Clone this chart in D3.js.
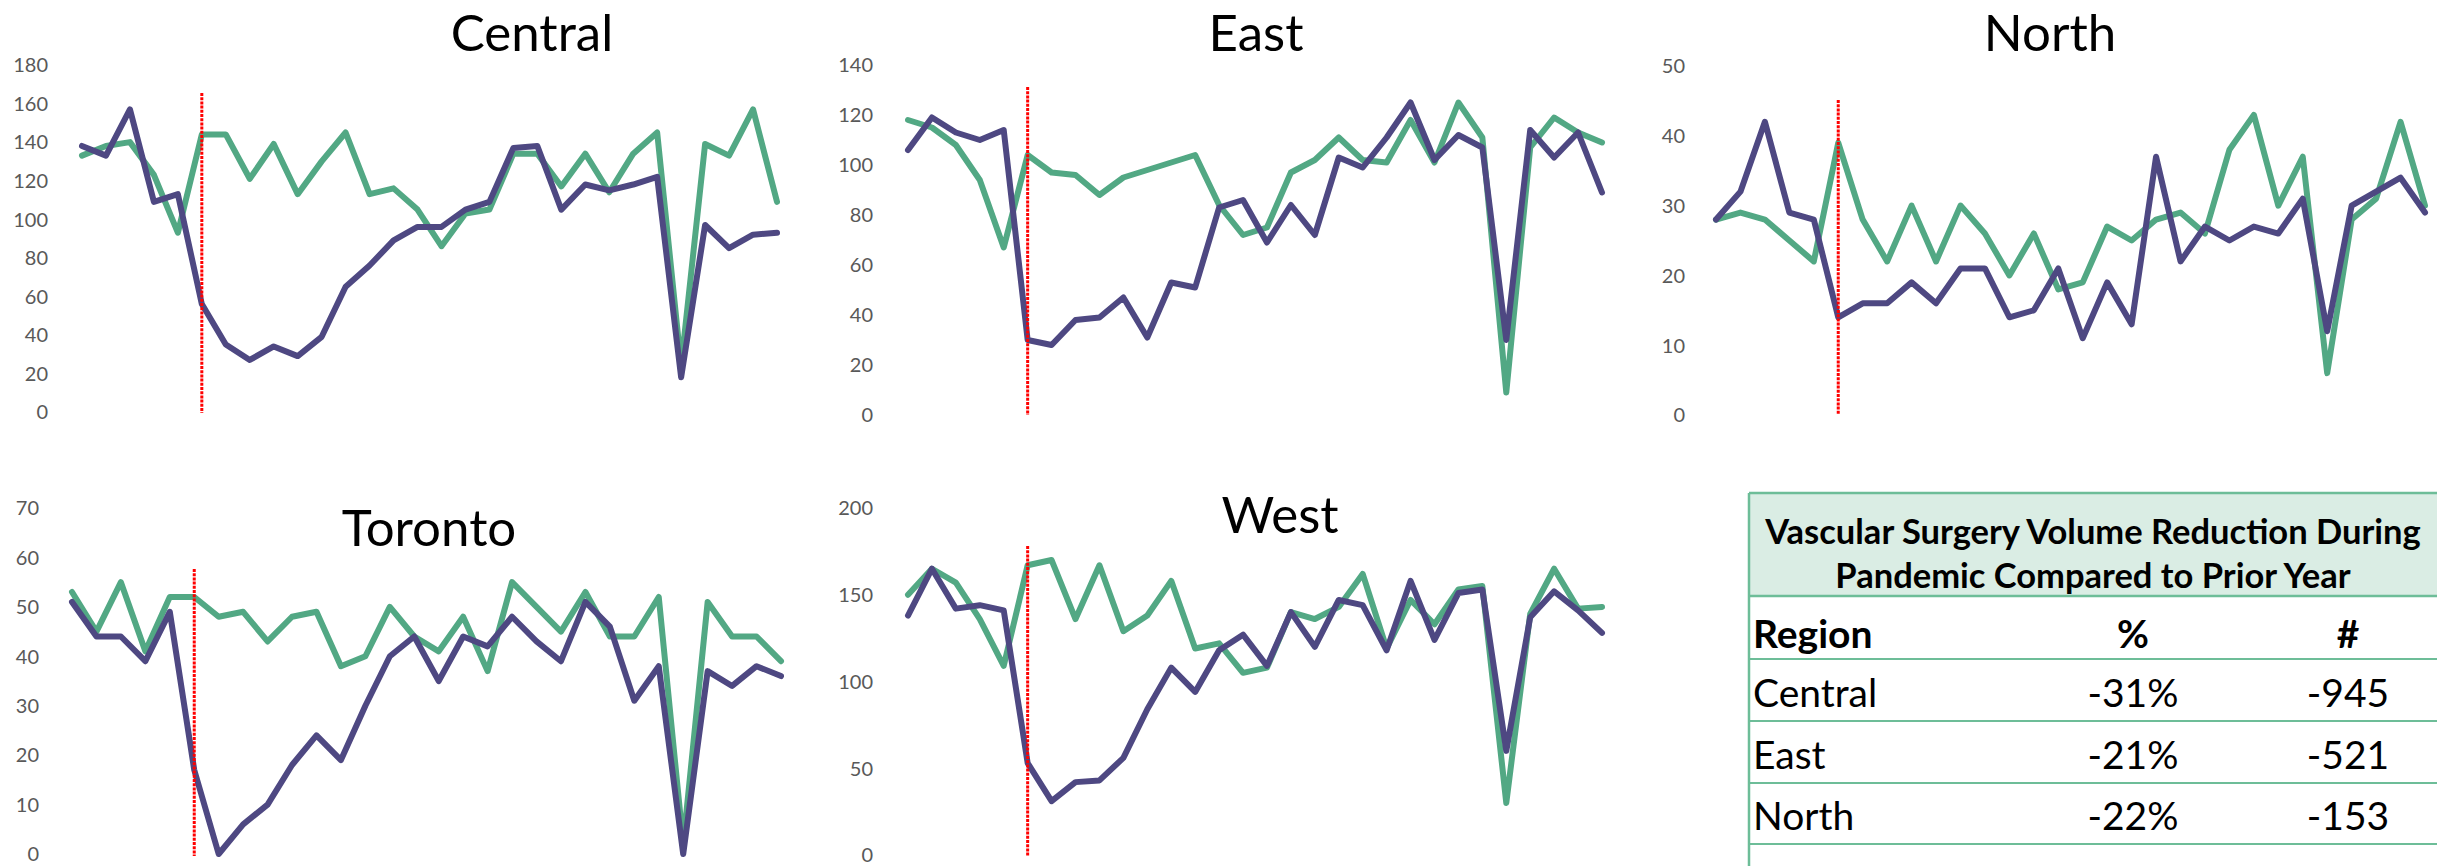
<!DOCTYPE html>
<html>
<head>
<meta charset="utf-8">
<script src="https://cdn.jsdelivr.net/npm/d3@7"></script>
<style>
  html, body { margin: 0; padding: 0; background: #fff; }
  svg { display: block; }
  text { font-family: Lato, "Open Sans", sans-serif; }
</style>
</head>
<body>
<svg id="chart" width="2437" height="866"></svg>
<script>
// ---------------- DATA ----------------
const regions = ["Central", "East", "North", "Toronto", "West"];
const pandemicStartIndex = 5;

// green = prior year, purple = pandemic year (30 periods)
const centralPrior    = [133,138,140,123,93,144,144,121,139,113,130,145,113,116,105,86,103,105,134,134,117,134,114,134,145,24,139,133,157,109];
const centralPandemic = [138,133,157,109,113,56,35,27,34,29,39,65,76,89,96,96,105,109,137,138,105,118,115,118,122,18,97,85,92,93];

const eastPrior    = [118,115,108,94,67,104,97,96,88,95,98,101,104,84,72,75,97,102,111,102,101,118,101,125,111,9,107,119,113,109];
const eastPandemic = [106,119,113,110,114,30,28,38,39,47,31,53,51,83,86,69,84,72,103,99,111,125,102,112,107,30,114,103,113,89];

const northPrior    = [28,29,28,25,22,39,28,22,30,22,30,26,20,26,18,19,27,25,28,29,26,38,43,30,37,6,28,31,42,30];
const northPandemic = [28,32,42,29,28,14,16,16,19,16,21,21,14,15,21,11,19,13,37,22,27,25,27,26,31,12,30,32,34,29];

const torontoPrior    = [53,45,55,41,52,52,48,49,43,48,49,38,40,50,44,41,48,37,55,50,45,53,44,44,52,2,51,44,44,39];
const torontoPandemic = [51,44,44,39,49,17,0,6,10,18,24,19,30,40,44,35,44,42,48,43,39,51,46,31,38,0,37,34,38,36];

const westPrior    = [150,165,157,136,109,167,170,136,167,129,138,158,119,122,105,108,140,136,143,162,119,147,133,153,155,30,139,165,142,143];
const westPandemic = [138,165,142,144,141,53,31,42,43,56,84,108,94,118,127,109,140,120,147,144,118,158,124,151,153,60,137,152,141,128];

const centralTicks = [0,20,40,60,80,100,120,140,160,180];
const eastTicks    = [0,20,40,60,80,100,120,140];
const northTicks   = [0,10,20,30,40,50];
const torontoTicks = [0,10,20,30,40,50,60,70];
const westTicks    = [0,50,100,150,200];

const tableTitle   = ["Vascular Surgery Volume Reduction During", "Pandemic Compared to Prior Year"];
const tableHeaders = ["Region", "%", "#"];
const tableRegions = ["Central", "East", "North"];
const tablePct     = ["-31%", "-21%", "-22%"];
const tableNum     = ["-945", "-521", "-153"];

// ---------------- LAYOUT ----------------
const GREEN = "#52a884";
const PURPLE = "#4e4882";
const RED = "#ff0000";
const TICK_COLOR = "#595959";

const panels = [
  { name: regions[0], prior: centralPrior, pandemic: centralPandemic, ticks: centralTicks,
    x0: 82, x1: 777, yZero: 412, yTop: 65, labelRight: 48, redTop: 93, redBottom: 413,
    titleX: 532, titleY: 50.5 },
  { name: regions[1], prior: eastPrior, pandemic: eastPandemic, ticks: eastTicks,
    x0: 908, x1: 1602, yZero: 415, yTop: 65, labelRight: 873, redTop: 87, redBottom: 415,
    titleX: 1256, titleY: 50.5 },
  { name: regions[2], prior: northPrior, pandemic: northPandemic, ticks: northTicks,
    x0: 1716, x1: 2425, yZero: 415, yTop: 66, labelRight: 1685, redTop: 100, redBottom: 415,
    titleX: 2050, titleY: 50.5 },
  { name: regions[3], prior: torontoPrior, pandemic: torontoPandemic, ticks: torontoTicks,
    x0: 72, x1: 781, yZero: 854, yTop: 508, labelRight: 39, redTop: 569, redBottom: 856,
    titleX: 429, titleY: 546 },
  { name: regions[4], prior: westPrior, pandemic: westPandemic, ticks: westTicks,
    x0: 908, x1: 1602, yZero: 855, yTop: 508, labelRight: 873, redTop: 546, redBottom: 856,
    titleX: 1280, titleY: 533 }
];

const svg = d3.select("#chart");

panels.forEach(p => {
  const n = p.prior.length;
  const x = d3.scaleLinear().domain([0, n - 1]).range([p.x0, p.x1]);
  const yMax = d3.max(p.ticks);
  const y = d3.scaleLinear().domain([0, yMax]).range([p.yZero, p.yTop]);

  const g = svg.append("g");

  // y axis labels (no axis line, no tick marks)
  const axis = d3.axisLeft(y).tickValues(p.ticks).tickSize(0).tickPadding(0);
  const ag = g.append("g").attr("transform", `translate(${p.labelRight},0)`).call(axis);
  ag.select(".domain").remove();
  ag.selectAll("text")
    .attr("fill", TICK_COLOR)
    .style("font-family", "Lato, 'Open Sans', sans-serif")
    .style("font-size", "20px")
    .attr("dy", "0.34em");

  const line = d3.line().x((d, i) => x(i)).y(d => y(d));

  g.append("path").datum(p.prior)
    .attr("d", line).attr("fill", "none")
    .attr("stroke", GREEN).attr("stroke-width", 6)
    .attr("stroke-linejoin", "round").attr("stroke-linecap", "round");

  g.append("path").datum(p.pandemic)
    .attr("d", line).attr("fill", "none")
    .attr("stroke", PURPLE).attr("stroke-width", 6)
    .attr("stroke-linejoin", "round").attr("stroke-linecap", "round");

  // pandemic start marker
  g.append("line")
    .attr("x1", x(pandemicStartIndex)).attr("x2", x(pandemicStartIndex))
    .attr("y1", p.redTop).attr("y2", p.redBottom)
    .attr("stroke", RED).attr("stroke-width", 3)
    .attr("stroke-dasharray", "3,1.2");

  g.append("text")
    .attr("x", p.titleX).attr("y", p.titleY)
    .attr("text-anchor", "middle")
    .attr("fill", "#000")
    .style("font-size", "51px")
    .text(p.name);
});

// ---------------- TABLE ----------------
const T = { left: 1749, right: 2437, top: 493, headBottom: 596,
            rowLines: [659, 721, 783, 844], bottom: 866 };
const BORDER = "#6dbd98";
const tg = svg.append("g");

tg.append("rect")
  .attr("x", T.left).attr("y", T.top)
  .attr("width", T.right - T.left).attr("height", T.headBottom - T.top)
  .attr("fill", "#daede4");

// borders
tg.append("line").attr("x1", T.left).attr("x2", T.right).attr("y1", T.top).attr("y2", T.top)
  .attr("stroke", BORDER).attr("stroke-width", 2.5);
tg.append("line").attr("x1", T.left).attr("x2", T.right).attr("y1", T.headBottom).attr("y2", T.headBottom)
  .attr("stroke", BORDER).attr("stroke-width", 2.5);
T.rowLines.forEach(yy => {
  tg.append("line").attr("x1", T.left).attr("x2", T.right).attr("y1", yy).attr("y2", yy)
    .attr("stroke", BORDER).attr("stroke-width", 2);
});
tg.append("line").attr("x1", T.left).attr("x2", T.left).attr("y1", T.top).attr("y2", T.bottom)
  .attr("stroke", BORDER).attr("stroke-width", 2.5);

const headCenter = (T.left + T.right) / 2;
tg.selectAll("text.tt").data(tableTitle).enter().append("text")
  .attr("class", "tt")
  .attr("x", headCenter).attr("y", (d, i) => 544 + i * 44)
  .attr("text-anchor", "middle")
  .style("font-size", "34.5px").style("font-weight", "700")
  .attr("fill", "#000")
  .text(d => d);

const colX = [1753, 2133, 2348];
const colAnchor = ["start", "middle", "middle"];
tg.selectAll("text.th").data(tableHeaders).enter().append("text")
  .attr("class", "th")
  .attr("x", (d, i) => colX[i]).attr("y", 648)
  .attr("text-anchor", (d, i) => colAnchor[i])
  .style("font-size", "39px").style("font-weight", "700")
  .attr("fill", "#000")
  .text(d => d);

const rows = tableRegions.map((r, i) => [r, tablePct[i], tableNum[i]]);
rows.forEach((row, ri) => {
  row.forEach((cell, ci) => {
    tg.append("text")
      .attr("x", colX[ci]).attr("y", 707 + ri * 61.5)
      .attr("text-anchor", colAnchor[ci])
      .style("font-size", "39px")
      .attr("fill", "#000")
      .text(cell);
  });
});
</script>
</body>
</html>
